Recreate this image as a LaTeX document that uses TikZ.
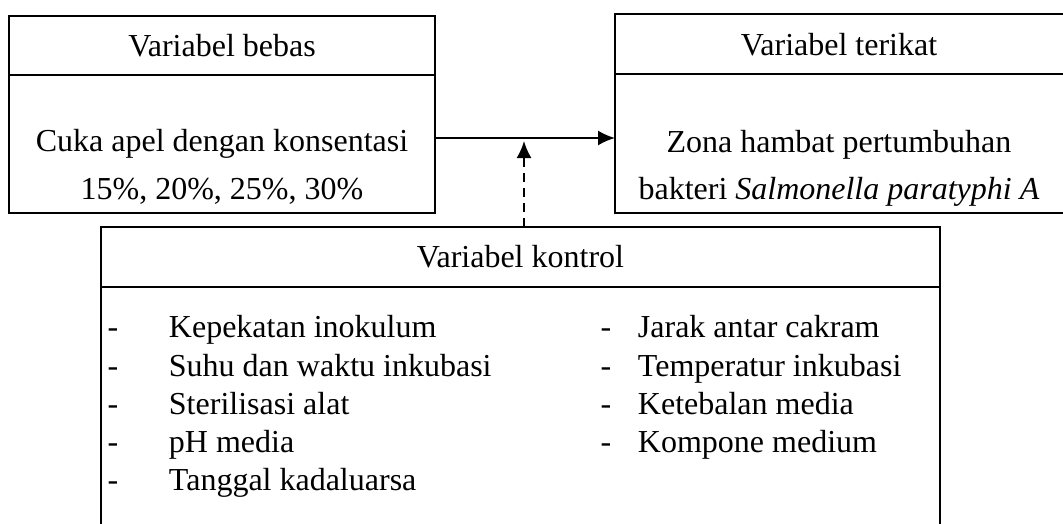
\documentclass[tikz,border=0pt]{standalone}
\usepackage{fontspec}
\setmainfont{Liberation Serif}
\usetikzlibrary{arrows.meta}
\begin{document}
\begin{tikzpicture}[x=1pt,y=-1pt,line width=1.9pt,
  box/.style={draw,rectangle,inner sep=0pt,outer sep=0pt},
  txt/.style={font=\fontsize{32}{38}\selectfont,inner sep=0pt,anchor=base},
  item/.style={txt,anchor=base west},
  arr/.style={-{Latex[length=17pt,width=15pt]}},
  darr/.style={arr,dash pattern=on 9pt off 6pt}]
\useasboundingbox (0,0) rectangle (1063,523);
\clip (0,0) rectangle (1063,523);
% boxes
\node[box,minimum width=426pt,minimum height=59pt] (lt) at (222,45.5) {};
\node[box,minimum width=426pt,minimum height=138pt] (lb) at (222,144) {};
\node[box,minimum width=455pt,minimum height=60pt] (rt) at (842.5,44) {};
\node[box,minimum width=455pt,minimum height=139pt] (rb) at (842.5,143.5) {};
\node[box,minimum width=839pt,minimum height=60pt] (ct) at (520.5,257) {};
\node[box,minimum width=839pt,minimum height=253pt] (cb) at (520.5,413.5) {};
% texts
\node[txt] (ltt) at (222,56) {Variabel bebas};
\node[txt] (lb1) at (222,151) {Cuka apel dengan konsentasi};
\node[txt] (lb2) at (222,199) {15\%, 20\%, 25\%, 30\%};
\node[txt] (rtt) at (839,55) {Variabel terikat};
\node[txt] (rb1) at (839,152) {Zona hambat pertumbuhan};
\node[txt] (rb2) at (839,199) {bakteri \textit{Salmonella paratyphi A}};
\node[txt] (ctt) at (520.5,267) {Variabel kontrol};
% list left
\node[txt] (d1) at (113,337) {-};
\node[txt] (d2) at (113,376) {-};
\node[txt] (d3) at (113,414) {-};
\node[txt] (d4) at (113,452) {-};
\node[txt] (d5) at (113,490) {-};
\node[item] (i1) at (168,337) {Kepekatan inokulum};
\node[item] (i2) at (168,376) {Suhu dan waktu inkubasi};
\node[item] (i3) at (168,414) {Sterilisasi alat};
\node[item] (i4) at (168,452) {pH media};
\node[item] (i5) at (168,490) {Tanggal kadaluarsa};
% list right
\node[txt] (e1) at (606,337) {-};
\node[txt] (e2) at (606,376) {-};
\node[txt] (e3) at (606,414) {-};
\node[txt] (e4) at (606,452) {-};
\node[item] (j1) at (637,337) {Jarak antar cakram};
\node[item] (j2) at (637,376) {Temperatur inkubasi};
\node[item] (j3) at (637,414) {Ketebalan media};
\node[item] (j4) at (637,452) {Kompone medium};
% connectors
\draw[arr] ([yshift=6pt]lb.east) -- ([yshift=6pt]lb.east -| rb.west);
\coordinate (dtip) at (524,141);
\draw[darr] ([xshift=3.5pt]ct.north) -- (dtip);
\end{tikzpicture}
\end{document}
